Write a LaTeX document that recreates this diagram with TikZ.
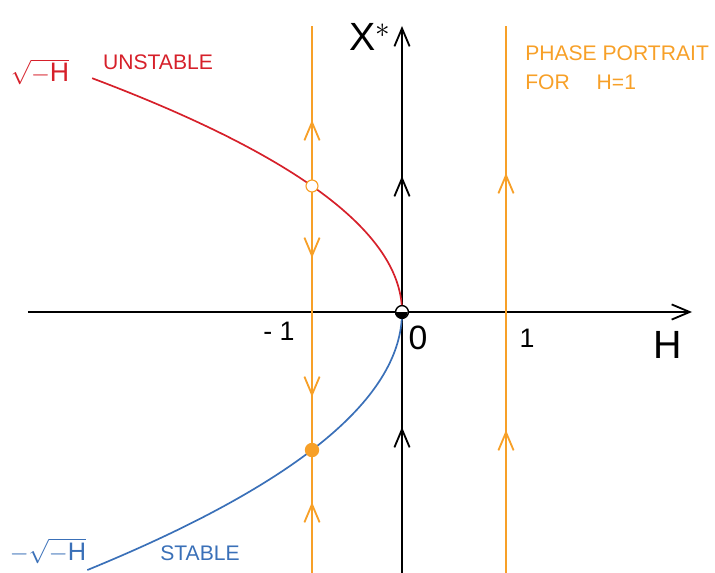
\documentclass[tikz,border=0pt]{standalone}
\usepackage{fontspec}
\setmainfont{Liberation Sans}
\usetikzlibrary{arrows.meta}
\definecolor{unstred}{RGB}{214,32,42}
\definecolor{stblue}{RGB}{58,112,184}
\definecolor{flowor}{RGB}{247,160,40}

\begin{document}
\begin{tikzpicture}[
    x=0.025cm, y=0.025cm,
    axis/.style={line width=1.3pt, -{Straight Barb[length=4.5mm, width=3.8mm]}},
    flow/.style={line width=1.3pt, flowor},
    barb/.style={line width=1.3pt, -{Straight Barb[length=4.5mm, width=3.8mm]}},
    branch/.style={line width=1.2pt},
    lab/.style={font=\fontsize{15}{21}\selectfont, inner sep=0pt},
    big/.style={font=\fontsize{28}{32}\selectfont, inner sep=0pt}
]
\useasboundingbox (-402,-260) rectangle (313,312);

% Axes
\coordinate (hl) at (-374,0);
\coordinate (hr) at (290,0);
\coordinate (vb) at (0,-262);
\coordinate (vt) at (0,286);
\draw[axis] (hl) -- (hr);
\draw[axis] (vb) -- (vt);

% Phase lines for H=-1 and H=1
\coordinate (lb) at (-90,-262);
\coordinate (lt) at (-90,286);
\coordinate (rb) at (104,-262);
\coordinate (rt) at (104,286);
\draw[flow] (lb) -- (lt);
\draw[flow] (rb) -- (rt);

% Flow directions
\foreach \x/\y/\d in {-90/192/1, -90/54/-1, -90/-85/-1, -90/-190/1, 104/139/1, 104/-118/1}
    \draw[barb, flowor] (\x,\y-\d*12) -- (\x,\y);
\foreach \y in {136,-115}
    \draw[barb] (0,\y-12) -- (0,\y);

% Branches of equilibria
\draw[branch, unstred] plot[domain=0:1.856, samples=60, smooth] ({-90*\x*\x},{126*\x});
\draw[branch, stblue] plot[domain=0:1.87, samples=60, smooth] ({-90*\x*\x},{-138*\x});

% Equilibria at H=-1 and the origin
\node[circle, draw=flowor, line width=0.8pt, fill=white, inner sep=0pt, minimum size=0.3cm] (ueq) at (-90,126) {};
\node[circle, fill=flowor, inner sep=0pt, minimum size=0.36cm] (seq) at (-90,-138) {};
\node[circle, draw, line width=1pt, fill=white, inner sep=0pt, minimum size=0.32cm] (org) at (0,0) {};
\fill (org.west) arc (180:360:0.16cm) -- cycle;

% Labels
\node[lab, unstred, font=\fontsize{19}{22}\selectfont] (sqp) at (-362,240) {$\sqrt{-\mathrm{H}}$};
\node[lab, unstred] (unst) at (-244,250) {UNSTABLE};
\node[lab, stblue, font=\fontsize{18}{22}\selectfont] (sqm) at (-354,-239) {$-\sqrt{-\mathrm{H}}$};
\node[lab, stblue] (stab) at (-202,-241) {STABLE};
\node[lab, flowor, align=left, anchor=north west] (port) at (123,267) {PHASE PORTRAIT\\FOR\quad\ H=1};
\node[big] (xs) at (-32,275) {$\mathrm{X}^{*}$};
\node[big] (hax) at (266,-33) {$\mathrm{H}$};
\node[big, font=\fontsize{24}{28}\selectfont] (zero) at (16,-26) {0};
\node[lab, font=\fontsize{19}{22}\selectfont] (mone) at (-123,-19) {-\;1};
\node[lab, font=\fontsize{19}{22}\selectfont] (one) at (125,-26) {1};
\end{tikzpicture}
\end{document}
